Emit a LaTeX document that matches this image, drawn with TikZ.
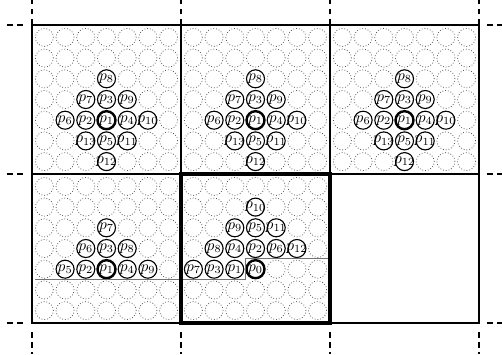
\documentclass[tikz,border=0pt]{standalone}
\begin{document}
\begin{tikzpicture}[x=1pt,y=-1pt,
  dotc/.style={circle, draw=black!65, dotted, line width=0.8pt, minimum size=18pt, inner sep=0pt},
  lab/.style={circle, draw=black, fill=white, solid, line width=1.1pt, minimum size=18pt, inner sep=0pt},
  cur/.style={lab, line width=2.4pt},
  txt/.style={inner sep=0pt, scale=1.55},
  gridline/.style={line width=2.4pt, line cap=rect},
  ext/.style={line width=2.2pt, dash pattern=on 5.5pt off 4.5pt},
  scan/.style={draw=black!55, line width=0.9pt},
  focus/.style={line width=4.5pt, line cap=rect}]
\useasboundingbox (0,0) rectangle (502,354);
% dotted circle lattices
\foreach \ci/\rj in {0/0,1/0,2/0,0/1,1/1}{
  \foreach \c in {0,...,6}{
    \foreach \r in {0,...,6}{
      \node[dotc] (d-\ci-\rj-\c-\r) at ({106.5+149*\ci+(\c-3)*20.7},{99.5+149*\rj+(\r-3)*20.7}) {};
    }
  }
}
% top row cells
\foreach \ci in {0,1,2}{
  \foreach \c/\r/\n in {3/2/8, 2/3/7, 3/3/3, 4/3/9, 1/4/6, 2/4/2, 4/4/4, 5/4/10, 2/5/13, 3/5/5, 4/5/11, 3/6/12}{
    \node[lab] (t\ci-\n) at (d-\ci-0-\c-\r) {};
    \node[txt] at (t\ci-\n) {$p_{\n}$};
  }
  \node[cur] (t\ci-1) at (d-\ci-0-3-4) {};
  \node[txt] at (t\ci-1) {$p_{1}$};
}
% lower left cell
\foreach \c/\r/\n in {3/2/7, 2/3/6, 3/3/3, 4/3/8, 1/4/5, 2/4/2, 4/4/4, 5/4/9}{
  \node[lab] (l-\n) at (d-0-1-\c-\r) {};
  \node[txt] at (l-\n) {$p_{\n}$};
}
\node[cur] (l-1) at (d-0-1-3-4) {};
\node[txt] at (l-1) {$p_{1}$};
% lower middle cell
\foreach \c/\r/\n in {3/1/10, 2/2/9, 3/2/5, 4/2/11, 1/3/8, 2/3/4, 3/3/2, 4/3/6, 5/3/12, 0/4/7, 1/4/3, 2/4/1}{
  \node[lab] (m-\n) at (d-1-1-\c-\r) {};
  \node[txt] at (m-\n) {$p_{\n}$};
}
\node[cur] (m-0) at (d-1-1-3-4) {};
\node[txt] at (m-0) {$p_{0}$};
% scan-order boundary
\coordinate (s0) at (35,279.6);
\coordinate (s1) at (245.2,279.6);
\coordinate (s2) at (245.2,258.9);
\coordinate (s3) at (330,258.9);
\draw[scan] (s0) -- (s1) -- (s2) -- (s3);
% dashed extensions
\foreach \x in {32,181,330,479}{
  \draw[ext] (\x,24) -- (\x,0);
  \draw[ext] (\x,332) -- (\x,354);
}
\foreach \y in {25,174,323}{
  \draw[ext] (7,\y) -- (24,\y);
  \draw[ext] (487,\y) -- (502,\y);
}
% grid
\foreach \y in {25,174,323}{ \draw[gridline] (32,\y) -- (479,\y); }
\foreach \x in {32,181,330,479}{ \draw[gridline] (\x,25) -- (\x,323); }
% focus cell
\draw[focus] (181,174) rectangle (330,323);
\end{tikzpicture}
\end{document}
